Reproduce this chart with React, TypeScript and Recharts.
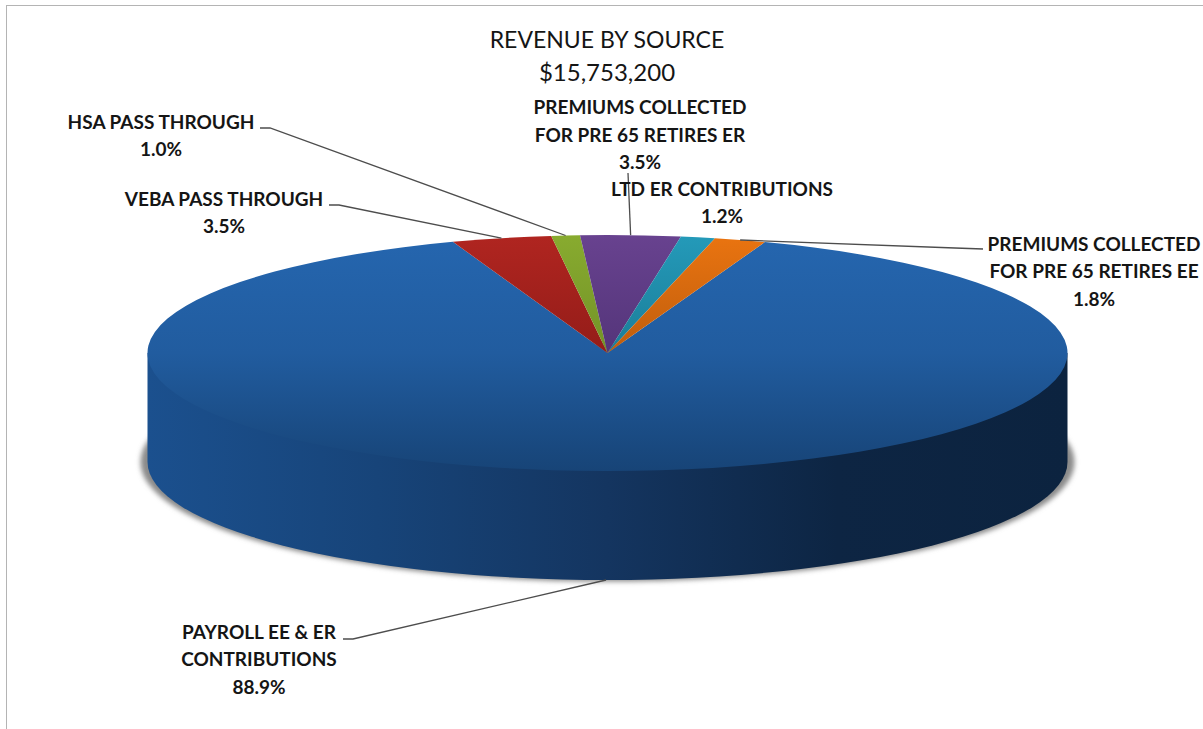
import { Pie, PieChart } from 'recharts'

const sourceNames = [
  'PAYROLL EE & ER CONTRIBUTIONS',
  'VEBA PASS THROUGH',
  'HSA PASS THROUGH',
  'PREMIUMS COLLECTED FOR PRE 65 RETIRES ER',
  'LTD ER CONTRIBUTIONS',
  'PREMIUMS COLLECTED FOR PRE 65 RETIRES EE',
]
const sourceShares = [88.9, 3.5, 1.0, 3.5, 1.2, 1.8]

const data = sourceNames.map((name, i) => ({ name, value: sourceShares[i] }))

const WIDTH = 1203
const HEIGHT = 729
const CX = 607.5
const CY = 353
const RX = 460
const RY = 118
const DEPTH = 109
const FONT = 'Lato, Carlito, sans-serif'

// top and bottom colour of each slice's vertical gradient
const sliceColors = [
  ['#2566af', '#174477'],
  ['#b02520', '#781411'],
  ['#88ab2f', '#5e7a1f'],
  ['#68428f', '#402865'],
  ['#249ab9', '#126078'],
  ['#ea7410', '#94470a'],
]

// one text block per slice: centre x, y of each line, and the elbow of the leader
const labelLayout = [
  { x: 259, ys: [631, 658, 686], lines: ['PAYROLL EE & ER', 'CONTRIBUTIONS'], leader: [343, 639, 353, 639] },
  { x: 224, ys: [198, 225], lines: ['VEBA PASS THROUGH'], leader: [329, 205, 339, 205] },
  { x: 161, ys: [121, 148], lines: ['HSA PASS THROUGH'], leader: [260, 128, 270, 128] },
  { x: 640, ys: [106, 134, 161], lines: ['PREMIUMS COLLECTED', 'FOR PRE 65 RETIRES ER'], leader: [628, 173, 628, 173] },
  { x: 722, ys: [188, 215], lines: ['LTD ER CONTRIBUTIONS'], leader: null },
  { x: 1094, ys: [243, 270, 298], lines: ['PREMIUMS COLLECTED', 'FOR PRE 65 RETIRES EE'], leader: [983, 249, 955, 248] },
]

const RAD = Math.PI / 180
const px = (a: number) => CX + RX * Math.cos(a * RAD)
const py = (a: number) => CY - RY * Math.sin(a * RAD)

// Pie slices squashed onto an ellipse, with the rim drawn under the front part
function TiltedSlice(props: any) {
  const { startAngle, endAngle, name } = props
  const index = sourceNames.indexOf(name)
  const large = startAngle - endAngle > 180 ? 1 : 0
  const top = `M${CX},${CY} L${px(startAngle)},${py(startAngle)} A${RX},${RY} 0 ${large} 1 ${px(endAngle)},${py(endAngle)} Z`

  // front half of the disc runs from 0 down to -180 degrees
  const from = Math.min(startAngle, 0)
  const to = Math.max(endAngle, -180)
  const hasWall = from > to

  return (
    <g>
      {hasWall && (
        <>
          <ellipse cx={CX} cy={CY + DEPTH} rx={RX + 7} ry={RY + 1.5} fill="#8a8a8a" filter="url(#pieShadow)" />
          {/* wall runs on under the top face so no white seam shows along the rim */}
          <path
            d={`M${px(from)},${py(from)} L${px(to)},${py(to)} L${px(to)},${py(to) + DEPTH} A${RX},${RY} 0 0 0 ${px(from)},${py(from) + DEPTH} Z`}
            fill="url(#wallFill)"
          />
        </>
      )}
      <path d={top} fill={`url(#slice${index})`} />
    </g>
  )
}

function SliceLabel(props: any) {
  const { index, midAngle, value } = props
  const layout = labelLayout[index]
  const rows = [...layout.lines, `${Number(value).toFixed(1)}%`]
  const tipX = px(midAngle)
  const tipY = py(midAngle) + (Math.sin(midAngle * RAD) < 0 ? DEPTH : 0)
  return (
    <g>
      {layout.leader && (
        <polyline
          points={`${layout.leader[0]},${layout.leader[1]} ${layout.leader[2]},${layout.leader[3]} ${tipX},${tipY}`}
          fill="none"
          stroke="#4d4d4d"
          strokeWidth={1.3}
        />
      )}
      {rows.map((row, i) => (
        <text
          key={row}
          x={layout.x}
          y={layout.ys[i]}
          textAnchor="middle"
          dominantBaseline="central"
          fontFamily={FONT}
          fontWeight={700}
          fontSize={19}
          fill="#151515"
        >
          {row}
        </text>
      ))}
    </g>
  )
}

export default function App() {
  return (
    <div
      style={{
        position: 'absolute',
        left: 0,
        top: 0,
        width: WIDTH,
        height: HEIGHT,
        background: '#fff',
        overflow: 'hidden',
      }}
    >
      <div
        style={{
          position: 'absolute',
          left: 6,
          top: 5,
          right: 0,
          bottom: 0,
          borderTop: '1px solid #b4b4b4',
          borderLeft: '1px solid #b4b4b4',
        }}
      />
      <PieChart width={WIDTH} height={HEIGHT} style={{ position: 'absolute', left: 0, top: 0 }}>
        <defs>
          {sliceColors.map(([from, to], i) => (
            <linearGradient key={i} id={`slice${i}`} gradientUnits="userSpaceOnUse" x1={0} y1={CY - RY} x2={0} y2={CY + RY}>
              <stop offset="0%" stopColor={from} />
              {i === 0 && <stop offset="50%" stopColor="#215c9f" />}
              <stop offset="100%" stopColor={to} />
            </linearGradient>
          ))}
          <linearGradient id="wallFill" gradientUnits="userSpaceOnUse" x1={CX - RX} y1={0} x2={CX + RX} y2={0}>
            <stop offset="0%" stopColor="#1b508e" />
            <stop offset="25%" stopColor="#174479" />
            <stop offset="50%" stopColor="#143560" />
            <stop offset="75%" stopColor="#0d2543" />
            <stop offset="100%" stopColor="#0c233f" />
          </linearGradient>
          <filter id="pieShadow" x="-5%" y="-20%" width="110%" height="140%">
            <feGaussianBlur stdDeviation="2.5" />
          </filter>
        </defs>
        <text x={607} y={39} textAnchor="middle" dominantBaseline="central" fontFamily={FONT} fontSize={23} fill="#151515">
          REVENUE BY SOURCE
        </text>
        <text x={607} y={71} textAnchor="middle" dominantBaseline="central" fontFamily={FONT} fontSize={24} fill="#151515">
          $15,753,200
        </text>
        <Pie
          data={data}
          dataKey="value"
          nameKey="name"
          cx={CX}
          cy={CY}
          innerRadius={0}
          outerRadius={RX}
          startAngle={70}
          endAngle={-290}
          stroke="none"
          shape={TiltedSlice}
          label={SliceLabel}
          labelLine={false}
          isAnimationActive={false}
        />
      </PieChart>
    </div>
  )
}
